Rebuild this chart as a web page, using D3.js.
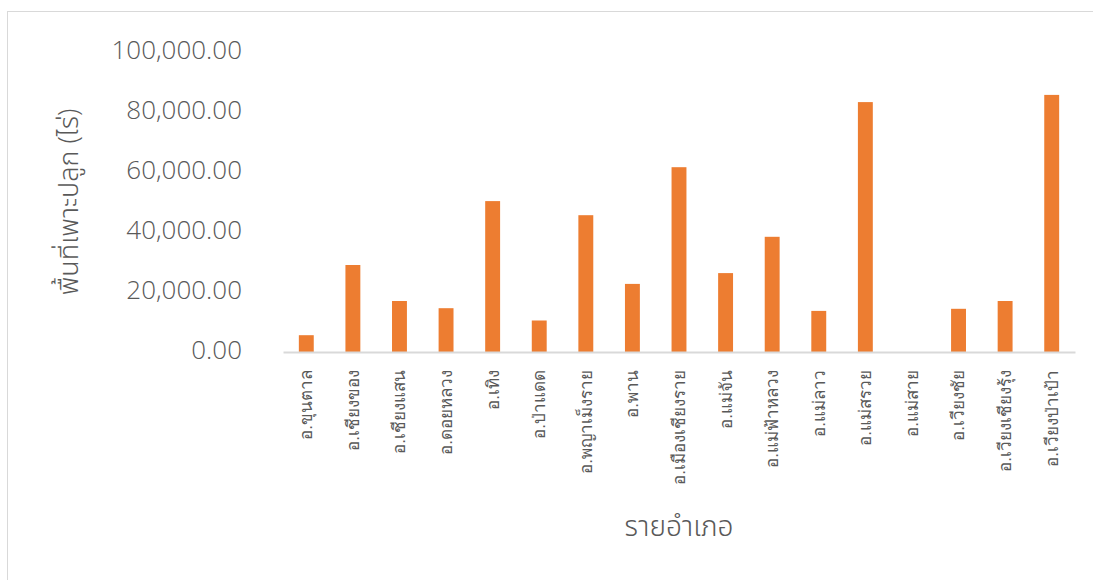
<!DOCTYPE html>
<html>
<head>
<meta charset="utf-8">
<script src="https://cdn.jsdelivr.net/npm/d3@7/dist/d3.min.js"></script>
<style>
  html, body { margin: 0; padding: 0; background: #fff; }
  svg { display: block; font-family: "Open Sans", "Noto Sans", "Noto Sans Thai", sans-serif; font-weight: 300; }
</style>
</head>
<body>
<svg id="chart" width="1093" height="580"></svg>
<script>
// Planted area per district (rai)
const districts = [
  "อ.ขุนตาล", "อ.เชียงของ", "อ.เชียงแสน", "อ.ดอยหลวง", "อ.เทิง", "อ.ป่าแดด",
  "อ.พญาเม็งราย", "อ.พาน", "อ.เมืองเชียงราย", "อ.แม่จัน", "อ.แม่ฟ้าหลวง",
  "อ.แม่ลาว", "อ.แม่สรวย", "อ.แม่สาย", "อ.เวียงชัย", "อ.เวียงเชียงรุ้ง", "อ.เวียงป่าเป้า"
];
const areaRai = [
  5600, 29000, 17000, 14600, 50300, 10500,
  45600, 22700, 61600, 26300, 38400,
  13700, 83300, 0, 14400, 17000, 85700
];
const yTicks = [0, 20000, 40000, 60000, 80000, 100000];
const yTitle = "พื้นที่เพาะปลูก (ไร่)";
const xTitle = "รายอำเภอ";

const svg = d3.select("#chart");
const grey = "#595959";

// outer chart frame
svg.append("rect")
  .attr("x", 7.5).attr("y", 11.5)
  .attr("width", 1100).attr("height", 600)
  .attr("fill", "none").attr("stroke", "#d9d9d9").attr("stroke-width", 1);

const plot = { left: 283, right: 1075, top: 52, bottom: 352 };

const x = d3.scaleBand()
  .domain(districts)
  .range([plot.left, plot.right])
  .paddingInner(0.68)
  .paddingOuter(0.34);

const y = d3.scaleLinear()
  .domain([0, 100000])
  .range([plot.bottom, plot.top]);

// bars
svg.append("g")
  .selectAll("rect")
  .data(districts.map((d, i) => ({ d, v: areaRai[i] })))
  .join("rect")
  .attr("x", p => x(p.d))
  .attr("y", p => y(p.v))
  .attr("width", x.bandwidth())
  .attr("height", p => y(0) - y(p.v))
  .attr("fill", "#ed7d31");

// y axis labels (no line)
const yAxis = svg.append("g")
  .attr("transform", `translate(${plot.left - 41},0)`)
  .call(d3.axisLeft(y).tickValues(yTicks).tickSize(0).tickPadding(0)
    .tickFormat(d3.format(",.2f")));
yAxis.select(".domain").remove();
yAxis.selectAll("text")
  .attr("fill", grey)
  .attr("font-size", 26)
  .attr("font-family", "'Open Sans', 'Noto Sans', sans-serif")
  .attr("font-weight", 300)
  .attr("dy", "0.25em");

// x axis
const xAxis = svg.append("g")
  .attr("transform", `translate(0,${plot.bottom})`)
  .call(d3.axisBottom(x).tickSize(0).tickPadding(0));
xAxis.select(".domain")
  .attr("stroke", "#d9d9d9").attr("stroke-width", 2);
xAxis.selectAll("text")
  .attr("fill", grey)
  .attr("font-size", 17)
  .attr("font-family", null)
  .attr("text-anchor", "end")
  .attr("transform", "translate(0,18) rotate(-90)")
  .attr("x", 0).attr("y", 0)
  .attr("dy", "0.35em");

// axis titles
svg.append("text")
  .attr("transform", `translate(69,${(plot.top + plot.bottom) / 2}) rotate(-90)`)
  .attr("text-anchor", "middle")
  .attr("dy", "0.35em")
  .attr("fill", grey)
  .attr("font-size", 27)
  .text(yTitle);

svg.append("text")
  .attr("x", (plot.left + plot.right) / 2)
  .attr("y", 536)
  .attr("text-anchor", "middle")
  .attr("fill", grey)
  .attr("font-size", 28)
  .text(xTitle);
</script>
</body>
</html>
